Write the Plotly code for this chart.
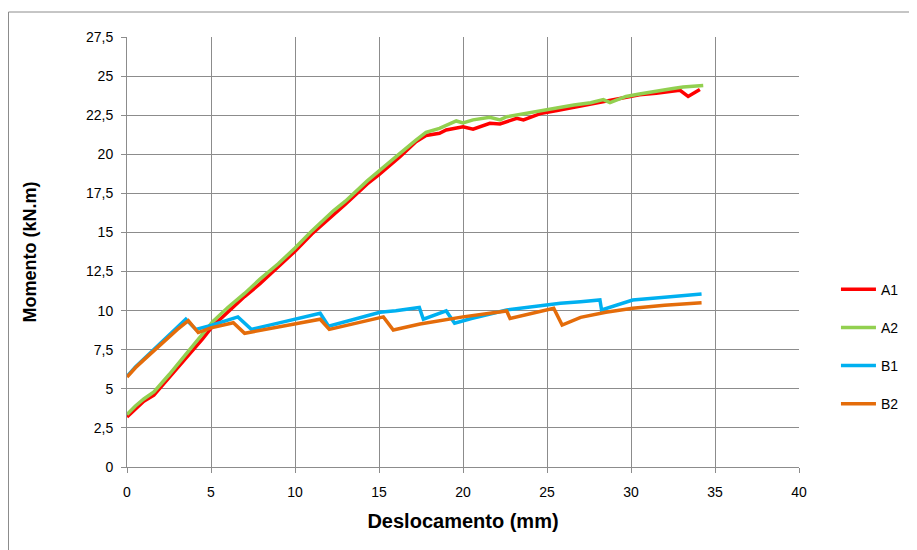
import plotly.graph_objects as go

# ---- data ----
a1_x = [0, 0.5, 1, 1.6, 2.5, 3.5, 4.5, 5.1, 6, 7, 7.9, 9, 10, 11, 12.3, 13, 14.3, 15, 16.25, 17.2, 17.8,
        18.6, 19.0, 20.0, 20.6, 21.6, 22.2, 23.2, 23.6, 24.6, 25.6, 26.6, 27.6, 28.55, 29.5, 30.5, 31.5,
        32.3, 32.9, 33.4, 34.1]
a1_y = [3.2, 3.7, 4.2, 4.6, 5.7, 7.0, 8.2, 9.0, 9.9, 10.9, 11.7, 12.8, 13.8, 14.9, 16.1, 16.8, 18.1, 18.7,
        19.85, 20.8, 21.2, 21.34, 21.55, 21.76, 21.6, 21.98, 21.94, 22.3, 22.2, 22.6, 22.8, 23.0, 23.2,
        23.4, 23.6, 23.8, 23.9, 24.0, 24.1, 23.7, 24.15]

a2_x = [0, 0.5, 1, 1.6, 2.5, 3.5, 4.5, 5.1, 6, 7, 7.9, 9, 10, 11, 12.3, 13, 14.3, 15, 16.25, 17.2, 17.8,
        18.6, 19.6, 20.0, 20.6, 21.6, 22.2, 22.6, 23.6, 24.6, 25.6, 26.6, 27.6, 28.35, 28.75, 29.7, 30.5,
        31.5, 32.5, 33.1, 34.3]
a2_y = [3.35, 3.9, 4.35, 4.8, 5.9, 7.2, 8.5, 9.3, 10.2, 11.1, 12.0, 13.0, 14.0, 15.1, 16.4, 17.0, 18.3,
        18.95, 20.06, 20.9, 21.4, 21.66, 22.13, 22.0, 22.2, 22.36, 22.2, 22.4, 22.6, 22.8, 22.95, 23.15,
        23.3, 23.5, 23.3, 23.7, 23.85, 24.0, 24.2, 24.3, 24.4]

b1_x = [0, 0.5, 1, 1.5, 2, 2.5, 3, 3.5, 4.1, 5, 6.6, 7.4, 9, 10, 11.5, 12.0, 13, 14, 15.06, 16, 17.4, 17.64,
        19.0, 19.5, 20.5, 22.6, 24, 25.8, 27, 28.15, 28.25, 30.1, 32, 34.2]
b1_y = [5.8, 6.4, 6.9, 7.4, 7.9, 8.4, 8.9, 9.45, 8.8, 9.05, 9.6, 8.8, 9.2, 9.45, 9.83, 9.0, 9.3, 9.6, 9.9,
        10.0, 10.2, 9.45, 9.98, 9.19, 9.5, 10.04, 10.25, 10.47, 10.57, 10.68, 10.04, 10.68, 10.85, 11.06]

b2_x = [0, 0.5, 1, 1.5, 2, 2.5, 3, 3.65, 4.24, 5, 6.33, 7.0, 9, 10, 11.5, 12.04, 13, 14, 15.26, 15.85, 17.44,
        20, 22.6, 22.8, 24, 25.4, 25.9, 27, 28.5, 30.1, 32, 34.2]
b2_y = [5.75, 6.35, 6.85, 7.35, 7.85, 8.35, 8.8, 9.36, 8.6, 8.9, 9.23, 8.55, 8.95, 9.15, 9.45, 8.8, 9.05, 9.3,
        9.6, 8.76, 9.15, 9.6, 9.98, 9.5, 9.8, 10.15, 9.08, 9.57, 9.9, 10.15, 10.35, 10.5]

series = [("A1", a1_x, a1_y, "#FF0000"),
          ("A2", a2_x, a2_y, "#92D050"),
          ("B1", b1_x, b1_y, "#00B0F0"),
          ("B2", b2_x, b2_y, "#E46C0A")]

x_ticks = [0, 5, 10, 15, 20, 25, 30, 35, 40]
y_ticks = [0, 2.5, 5, 7.5, 10, 12.5, 15, 17.5, 20, 22.5, 25, 27.5]

fig = go.Figure()
for name, xs, ys, col in series:
    fig.add_trace(go.Scatter(x=xs, y=ys, mode="lines", name=name, legendgroup=name,
                             line=dict(color=col, width=3.5)))

tick_font = dict(family="Liberation Sans, Arial", size=14, color="#000000")

# page body has an 8px margin: figure is sized/positioned to compensate
fig.update_layout(
    width=909, height=542,
    margin=dict(l=119, r=118, t=29, b=83),
    paper_bgcolor="white", plot_bgcolor="white",
    separators=",.",
    showlegend=True,
    legend=dict(x=1.055, y=0.28, xanchor="left", yanchor="middle", itemwidth=35,
                font=dict(family="Liberation Sans, Arial", size=14, color="#000000"),
                tracegroupgap=17, bgcolor="rgba(0,0,0,0)"),
    xaxis=dict(range=[0, 40], tickvals=x_ticks, showgrid=True, gridcolor="#8c8c8c", gridwidth=1,
               showline=True, linecolor="#8c8c8c", linewidth=1, ticks="outside", ticklen=5,
               tickcolor="#8c8c8c", tickfont=tick_font, zeroline=False, ticklabelstandoff=7,
               title=dict(text="<b>Deslocamento (mm)</b>",
                          font=dict(family="Liberation Sans, Arial", size=20, color="#000000"),
                          standoff=15)),
    yaxis=dict(range=[0, 27.5], tickvals=y_ticks, showgrid=True, gridcolor="#8c8c8c", gridwidth=1,
               showline=True, linecolor="#8c8c8c", linewidth=1, ticks="outside", ticklen=5,
               tickcolor="#8c8c8c", tickfont=tick_font, zeroline=False, ticklabelstandoff=5,
               title=dict(text="<b>Momento (kN.m)</b>",
                          font=dict(family="Liberation Sans, Arial", size=18, color="#000000"),
                          standoff=44)),
)

# outer chart-area border (partially off-canvas, as in the reference)
fig.add_shape(type="rect", xref="paper", yref="paper",
              x0=(0.5 - 119) / 672, x1=(930 - 119) / 672,
              y0=(430 - 560) / 430, y1=(430 + 25) / 430,
              line=dict(color="#8c8c8c", width=1), fillcolor="rgba(0,0,0,0)", layer="below")

fig.write_html("out.html")
